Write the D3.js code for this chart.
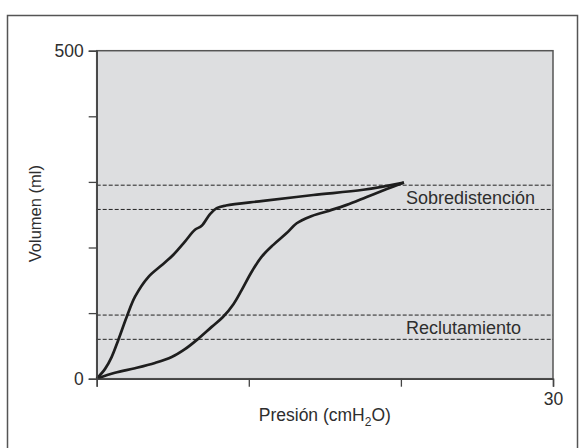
<!DOCTYPE html>
<html>
    <head>
        <meta charset="utf-8">
        <title>Curva presión-volumen</title>
        <script src="https://cdn.jsdelivr.net/npm/d3@7"></script>
        <style>
            body { margin: 0; background: #fff; }
            svg { display: block; font-family: "Liberation Sans", Arial, sans-serif; }
        </style>
    </head>
    <body>
        <div class="graphContainer"></div>
        <script>
            // curva superior (espiración) y curva inferior (insuflación), [presión, volumen]
            const deflacion = [
                [0, 0], [0.55, 15], [0.98, 33], [1.42, 59], [1.97, 94], [2.52, 125],
                [3.39, 155], [4.27, 173], [5.04, 189], [5.8, 209], [6.46, 227], [6.9, 233],
                [7.45, 251], [7.89, 260], [8.5, 264], [10.95, 271], [14.24, 280],
                [17.53, 288], [20.2, 299]
            ];
            const insuflacion = [
                [0, 0], [1.2, 9], [2.52, 16], [3.83, 24], [4.93, 33], [5.8, 45], [6.68, 61],
                [7.56, 79], [8.3, 94], [9.0, 114], [9.53, 135], [10.19, 163], [10.85, 186],
                [11.61, 204], [12.49, 222], [13.15, 237], [14.02, 247], [15.12, 255],
                [16.44, 265], [17.75, 277], [19.07, 289], [20.2, 299]
            ];
            // zonas marcadas con líneas discontinuas
            const zonas = [
                { nombre: "Sobredistención", desde: 258, hasta: 295 },
                { nombre: "Reclutamiento", desde: 60, hasta: 97 }
            ];
            const xTicks = [0, 10, 20, 30];
            const xLabels = [30];
            const yTicks = [0, 100, 200, 300, 400, 500];
            const yLabels = [0, 500];

            const w = 579;
            const h = 448;
            const mLeft = 96.7, mRight = 553, mTop = 50.7, mBottom = 378.7;

            const xScale = d3.scaleLinear().domain([0, 30]).range([mLeft, mRight]);
            const yScale = d3.scaleLinear().domain([0, 500]).range([mBottom, mTop]);

            const svg = d3.select(".graphContainer")
                .append("svg")
                .attr("width", w)
                .attr("height", h);

            // marco exterior
            svg.append("rect")
                .attr("x", 7.5).attr("y", 15.5)
                .attr("width", 570).attr("height", 460)
                .attr("fill", "none")
                .attr("stroke", "#555")
                .attr("stroke-width", 1.5);

            svg.append("rect")
                .attr("x", mLeft).attr("y", mTop)
                .attr("width", mRight - mLeft).attr("height", mBottom - mTop)
                .attr("fill", "#dddee0")
                .attr("stroke", "#555")
                .attr("stroke-width", 1.5);

            svg.selectAll(".zona")
                .data(zonas.flatMap(z => [z.desde, z.hasta]))
                .enter()
                .append("line")
                .attr("x1", mLeft).attr("x2", mRight)
                .attr("y1", d => yScale(d)).attr("y2", d => yScale(d))
                .attr("stroke", "#222")
                .attr("stroke-width", 1)
                .attr("stroke-dasharray", "4,2");

            svg.selectAll(".zonaLabel")
                .data(zonas)
                .enter()
                .append("text")
                .attr("x", 406)
                .attr("y", d => (yScale(d.desde) + yScale(d.hasta)) / 2 + 6.5)
                .attr("fill", "#2e2e2e")
                .style("font-size", "18px")
                .text(d => d.nombre);

            const line = d3.line()
                .x(d => xScale(d[0]))
                .y(d => yScale(d[1]))
                .curve(d3.curveCatmullRom.alpha(0.5));

            [deflacion, insuflacion].forEach(serie => {
                svg.append("path")
                    .attr("d", line(serie))
                    .attr("fill", "none")
                    .attr("stroke", "#1e1e1e")
                    .attr("stroke-width", 2.7)
                    .attr("stroke-linejoin", "round");
            });

            const xAxis = d3.axisBottom(xScale)
                .tickValues(xTicks)
                .tickSize(8)
                .tickPadding(6)
                .tickFormat(d => xLabels.includes(d) ? d : "");
            const yAxis = d3.axisLeft(yScale)
                .tickValues(yTicks)
                .tickSize(8)
                .tickPadding(5)
                .tickFormat(d => yLabels.includes(d) ? d : "");

            const gx = svg.append("g")
                .attr("transform", "translate(0," + mBottom + ")")
                .call(xAxis);
            const gy = svg.append("g")
                .attr("transform", "translate(" + mLeft + ",0)")
                .call(yAxis);

            [gx, gy].forEach(g => {
                g.select(".domain").attr("stroke", "#444").attr("stroke-width", 1.5);
                g.selectAll(".tick line").attr("stroke", "#444").attr("stroke-width", 1.3);
                g.selectAll("text")
                    .attr("fill", "#2e2e2e")
                    .style("font-size", "17.5px")
                    .style("font-family", "'Liberation Sans', Arial, sans-serif");
            });

            const xTitle = svg.append("text")
                .attr("x", (mLeft + mRight) / 2)
                .attr("y", 421)
                .attr("text-anchor", "middle")
                .attr("fill", "#2e2e2e")
                .style("font-size", "17.5px");
            xTitle.append("tspan").text("Presión (cmH");
            xTitle.append("tspan").attr("dy", 5).style("font-size", "12px").text("2");
            xTitle.append("tspan").attr("dy", -5).text("O)");

            svg.append("text")
                .attr("transform", "translate(40.5," + ((mTop + mBottom) / 2 - 1) + ") rotate(-90)")
                .attr("text-anchor", "middle")
                .attr("fill", "#2e2e2e")
                .style("font-size", "16.5px")
                .text("Volumen (ml)");
        </script>
    </body>
</html>
